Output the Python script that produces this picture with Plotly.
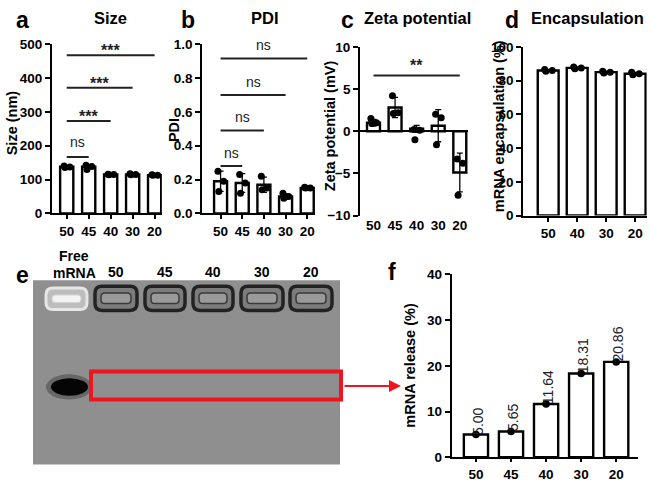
import plotly.graph_objects as go

FONT = "Liberation Sans, Arial, sans-serif"

# ---- data ----
groups_5 = ["50", "45", "40", "30", "20"]
groups_4 = ["50", "40", "30", "20"]

size_mean = [138, 138, 115, 115, 113]
size_sd = [2, 5, 1.5, 1.5, 1]
size_pts = [[140, 137, 136], [142, 139, 130], [116, 115, 114], [117, 115, 114], [114, 113, 113]]
size_sig_y = [167, 273, 371, 467]
size_sig_txt = ["ns", "***", "***", "***"]

pdi_mean = [0.19, 0.18, 0.17, 0.10, 0.15]
pdi_sd = [0.06, 0.055, 0.045, 0.015, 0.005]
pdi_pts = [[0.25, 0.19, 0.13], [0.23, 0.18, 0.12], [0.22, 0.15, 0.14], [0.12, 0.10, 0.09], [0.155, 0.15, 0.15]]
pdi_sig_y = [0.28, 0.49, 0.70, 0.915]
pdi_sig_txt = ["ns", "ns", "ns", "ns"]

zeta_mean = [1.0, 2.8, 0.3, 0.65, -4.9]
zeta_sd = [0.4, 1.2, 0.4, 1.9, 2.3]
zeta_pts = [[1.5, 1.0, 0.9], [4.2, 2.2, 2.1], [0.2, 0.1, -1.0], [2.0, 1.6, -1.6], [-3.3, -3.8, -7.6]]
zeta_sig_y = [6.6]
zeta_sig_txt = ["**"]

enc_mean = [86, 87.5, 85, 84]
enc_sd = [0.5, 0.5, 0.5, 0.8]
enc_pts = [[86.5, 86, 85.5], [88, 87.5, 87], [85.5, 85, 84.5], [85, 84, 83.5]]

release = [5.00, 5.65, 11.64, 18.31, 20.86]

gel_lanes = ["50", "45", "40", "30", "20"]

JIT = [-0.12, 0.14, -0.08]

fig = go.Figure()


def bar_panel(n, cats, mean, sd, pts, width):
    xs = list(range(len(cats)))
    fig.add_trace(go.Bar(
        x=xs, y=mean, width=width, xaxis="x%s" % n, yaxis="y%s" % n,
        marker=dict(color="white", line=dict(color="black", width=2.4)),
        error_y=dict(type="data", array=sd, color="black", thickness=1.3, width=3),
        showlegend=False))
    px, py = [], []
    for i, p in enumerate(pts):
        for j, v in enumerate(p):
            px.append(i + JIT[j])
            py.append(v)
    fig.add_trace(go.Scatter(
        x=px, y=py, mode="markers", xaxis="x%s" % n, yaxis="y%s" % n,
        marker=dict(color="black", size=7), showlegend=False, cliponaxis=False))


def sig_brackets(n, heights, labels, ends, off):
    for h, t, e in zip(heights, labels, ends):
        fig.add_shape(type="line", xref="x%s" % n, yref="y%s" % n,
                      x0=0, x1=e, y0=h, y1=h, line=dict(color="#222", width=2))
        bold = "*" in t
        fig.add_annotation(xref="x%s" % n, yref="y%s" % n, x=e / 2, y=h + off,
                           text=("<b>%s</b>" % t) if bold else t, showarrow=False,
                           yanchor="bottom" if not bold else "middle",
                           font=dict(size=16 if bold else 14, color="#222"))


bar_panel("", groups_5, size_mean, size_sd, size_pts, 0.6)
bar_panel("2", groups_5, pdi_mean, pdi_sd, pdi_pts, 0.6)
bar_panel("3", groups_5, zeta_mean, zeta_sd, zeta_pts, 0.6)
bar_panel("4", groups_4, enc_mean, enc_sd, enc_pts, 0.72)

# panel f
fx = list(range(len(groups_5)))
fig.add_trace(go.Bar(x=fx, y=release, width=0.69, xaxis="x5", yaxis="y5",
                     marker=dict(color="white", line=dict(color="black", width=2.4)),
                     showlegend=False))
fig.add_trace(go.Scatter(x=fx, y=release, mode="markers", xaxis="x5", yaxis="y5",
                         marker=dict(color="black", size=7.5), showlegend=False))
for i, v in enumerate(release):
    fig.add_annotation(xref="x5", yref="y5", x=i, y=v, text="%.2f" % v, textangle=-90,
                       showarrow=False, yanchor="bottom", yshift=-2, xshift=2,
                       font=dict(size=14, color="#222"))

sig_brackets("", size_sig_y, size_sig_txt, [1, 2, 3, 4], 14)
sig_brackets("2", pdi_sig_y, pdi_sig_txt, [1, 2, 3, 4], 0.02)
sig_brackets("3", zeta_sig_y, zeta_sig_txt, [4], 1.2)

tickf = dict(family=FONT, size=13.5, color="black", weight="bold")
ax_common = dict(showline=True, linecolor="black", linewidth=2, ticks="outside",
                 ticklen=4, tickwidth=2, tickcolor="black", showgrid=False,
                 zeroline=False, tickfont=tickf, fixedrange=True)


def xax(dom, rng, cats, anchor, **kw):
    d = dict(ax_common, domain=dom, range=rng, tickmode="array",
             tickvals=list(range(len(cats))), ticktext=cats, anchor=anchor)
    d.update(kw)
    return d


def yax(dom, rng, dtick, anchor, **kw):
    d = dict(ax_common, domain=dom, range=rng, dtick=dtick, anchor=anchor, ticklen=5)
    d.update(kw)
    return d


fig.update_layout(
    width=650, height=489, margin=dict(l=0, r=0, t=0, b=0),
    paper_bgcolor="white", plot_bgcolor="rgba(0,0,0,0)",
    font=dict(family=FONT, color="black"),
    xaxis=xax([0.080, 0.249], [-0.67, 4.33], groups_5, "y"),
    yaxis=yax([0.5644, 0.9217], [0, 500], 100, "x"),
    xaxis2=xax([0.311, 0.485], [-0.85, 4.37], groups_5, "y2"),
    yaxis2=yax([0.5644, 0.9217], [0, 1.0], 0.2, "x2", tickformat=".1f"),
    xaxis3=xax([0.554, 0.720], [-0.62, 4.38], groups_5, "y3", showline=False, ticks=""),
    yaxis3=yax([0.560, 0.916], [-10, 10], 5, "x3", zeroline=True,
               zerolinecolor="black", zerolinewidth=2),
    xaxis4=xax([0.805, 0.995], [-0.86, 3.4], groups_4, "y4"),
    yaxis4=yax([0.560, 0.916], [0, 100], 20, "x4"),
    xaxis5=xax([0.695, 0.982], [-0.69, 4.63], groups_5, "y5", ticklen=3),
    yaxis5=yax([0.050, 0.436], [0, 40], 10, "x5"),
    xaxis6=dict(domain=[0, 1], range=[0, 650], visible=False, fixedrange=True, anchor="y6"),
    yaxis6=dict(domain=[0, 1], range=[489, 0], visible=False, fixedrange=True, anchor="x6"),
)


def txt(x, y, t, size, bold=True, angle=0, color="black"):
    fig.add_annotation(xref="x6", yref="y6", x=x, y=y, text=("<b>%s</b>" % t) if bold else t,
                       showarrow=False, textangle=angle, font=dict(size=size, color=color))


def rounded(a, b, y0, y1, r):
    return ("M %s,%s L %s,%s Q %s,%s %s,%s L %s,%s Q %s,%s %s,%s L %s,%s Q %s,%s %s,%s "
            "L %s,%s Q %s,%s %s,%s Z" % (a + r, y0, b - r, y0, b, y0, b, y0 + r, b, y1 - r,
                                         b, y1, b - r, y1, a + r, y1, a, y1, a, y1 - r,
                                         a, y0 + r, a, y0, a + r, y0))


# panel letters and titles
txt(22, 13, "a", 23)
txt(110, 11, "Size", 16.5)
txt(188, 13, "b", 23)
txt(265, 11, "PDI", 16.5)
txt(347, 13, "c", 23)
txt(417, 11, "Zeta potential", 16.5)
txt(512, 13, "d", 23)
txt(587, 11, "Encapsulation", 16.5)
txt(22, 276, "e", 23)
txt(392, 273, "f", 23)

# axis titles
txt(12, 120, "Size (nm)", 14.5, angle=-90)
txt(174, 127, "PDI", 14.5, angle=-90)
txt(330, 123, "Zeta potential (mV)", 14.5, angle=-90)
txt(499, 123, "mRNA encapsulation (%)", 14.5, angle=-90)
txt(410, 370, "mRNA release (%)", 14.5, angle=-90)

# ---- gel image (panel e) ----
fig.add_shape(type="rect", xref="x6", yref="y6", x0=33, x1=340, y0=282, y1=472,
              fillcolor="#8f8f8f", line=dict(width=0), layer="below")
well_x = [(95, 137), (145, 185), (193, 233), (241, 283), (290, 332)]
for (a, b) in well_x:
    fig.add_shape(type="path", xref="x6", yref="y6", path=rounded(a, b, 288, 313, 7),
                  fillcolor="#7c7c7c", line=dict(color="#222222", width=3.5))
    fig.add_shape(type="path", xref="x6", yref="y6", path=rounded(a + 6, b - 6, 295, 306, 4),
                  fillcolor="#9a9a9a", line=dict(color="#3a3a3a", width=1.5))
fig.add_shape(type="path", xref="x6", yref="y6", path=rounded(46, 87, 290, 312, 7),
              fillcolor="#bdbdbd", line=dict(color="#e6e6e6", width=3))
fig.add_shape(type="path", xref="x6", yref="y6", path=rounded(52, 81, 297, 305, 3),
              fillcolor="#f2f2f2", line=dict(color="#d0d0d0", width=1))
# free mRNA band
fig.add_shape(type="circle", xref="x6", yref="y6", x0=46, x1=92, y0=379, y1=405,
              fillcolor="#404040", opacity=0.5, line=dict(width=0))
fig.add_shape(type="circle", xref="x6", yref="y6", x0=51, x1=88, y0=383, y1=401,
              fillcolor="#050505", line=dict(width=0))
# red box and arrow
fig.add_shape(type="rect", xref="x6", yref="y6", x0=91, x1=341, y0=376, y1=405,
              line=dict(color="#f0141e", width=4))
fig.add_annotation(xref="x6", yref="y6", x=401, y=391, ax=343, ay=391, axref="x6", ayref="y6",
                   showarrow=True, arrowhead=2, arrowsize=1.2, arrowwidth=2, arrowcolor="#f0141e",
                   text="")

txt(74, 257, "Free", 14)
txt(74, 274, "mRNA", 14)
for lab, (a, b) in zip(gel_lanes, well_x):
    txt((a + b) / 2, 273, lab, 14)

fig.write_html("out.html", config={"displayModeBar": False},
               post_script="document.body.style.margin='0';")
